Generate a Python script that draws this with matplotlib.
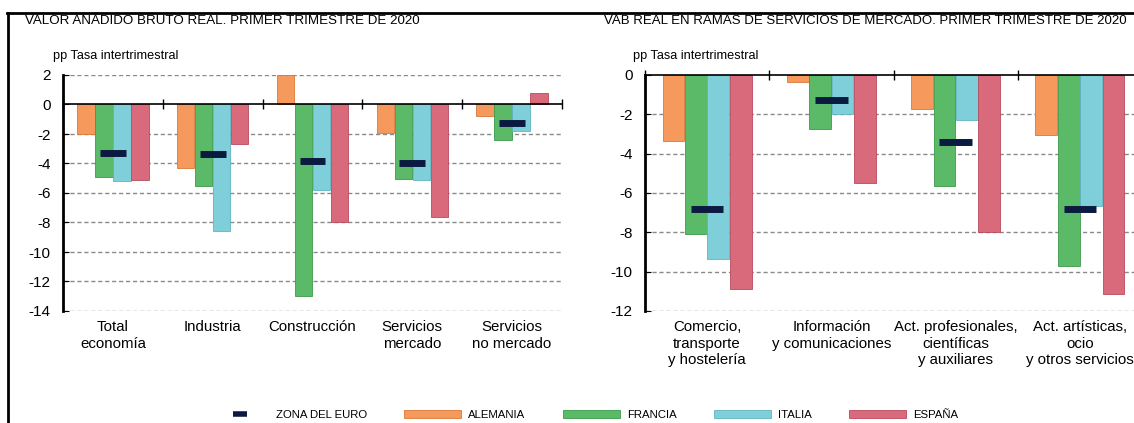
import matplotlib
matplotlib.use("Agg")
import matplotlib.pyplot as plt
import matplotlib.transforms as mtransforms
from matplotlib.lines import Line2D
from matplotlib.patches import Patch
import numpy as np

plt.rcParams["font.family"] = ["Liberation Sans", "DejaVu Sans"]

# --- data (pp, quarter-on-quarter rate) ---
cats_left = ["Total\neconomía", "Industria", "Construcción",
             "Servicios\nmercado", "Servicios\nno mercado"]
alemania_l = [-2.0, -4.3, 2.0, -1.9, -0.75]
francia_l = [-4.9, -5.5, -13.0, -5.05, -2.4]
italia_l = [-5.2, -8.6, -5.8, -5.1, -1.8]
espana_l = [-5.1, -2.7, -8.0, -7.6, 0.8]
euro_l = [-3.3, -3.35, -3.85, -3.95, -1.25]

cats_right = ["Comercio,\ntransporte\ny hostelería", "Información\ny comunicaciones",
              "Act. profesionales,\ncientíficas\ny auxiliares",
              "Act. artísticas,\nocio\ny otros servicios"]
alemania_r = [-3.35, -0.35, -1.75, -3.05]
francia_r = [-8.1, -2.75, -5.65, -9.7]
italia_r = [-9.35, -2.0, -2.3, -6.65]
espana_r = [-10.9, -5.5, -8.0, -11.15]
euro_r = [-6.8, -1.25, -3.4, -6.8]

countries = ["ALEMANIA", "FRANCIA", "ITALIA", "ESPAÑA"]
colors = ["#F59A5C", "#5BBA68", "#7FCFDA", "#D96A7C"]
edges = ["#D9783A", "#3E9A4C", "#60B4C2", "#B84A5E"]
euro_color = "#0B1A40"

fig = plt.figure(figsize=(11.34, 4.23), dpi=100)
W, H = 1134, 423


def draw_panel(ax, cats, series, euro, ylim, yticks, label_y):
    x = np.arange(len(cats))
    bw = 0.18
    for i, (vals, c, e) in enumerate(zip(series, colors, edges)):
        ax.bar(x + (i - 1.5) * bw, vals, bw * 0.97, color=c, edgecolor=e,
               linewidth=0.6, zorder=3)
    ax.hlines(euro, x - 0.13, x + 0.13, color=euro_color, linewidth=5, zorder=4)
    ax.set_xlim(-0.5, len(cats) - 0.5)
    ax.set_ylim(*ylim)
    ax.set_yticks(yticks)
    ax.set_yticklabels([str(t) for t in yticks], fontsize=11)
    ax.tick_params(axis="y", direction="in", length=4, pad=9)
    for t in yticks:
        if t != 0:
            ax.axhline(t, color="#8a8a8a", linestyle=(0, (3, 2)), linewidth=1.0, zorder=1)
    ax.spines["top"].set_visible(False)
    ax.spines["right"].set_visible(False)
    ax.spines["left"].set_linewidth(2)
    ax.spines["bottom"].set_position(("data", 0))
    ax.spines["bottom"].set_linewidth(1.2)
    ax.spines["bottom"].set_zorder(5)
    ax.set_xticks(np.arange(len(cats) + 1) - 0.5)
    ax.set_xticklabels([])
    ax.tick_params(axis="x", direction="inout", length=7, width=1)
    trans = mtransforms.blended_transform_factory(ax.transData, ax.transAxes)
    for xi, lab in zip(x, cats):
        ax.text(xi, label_y, lab, transform=trans, ha="center", va="top",
                fontsize=10.8, linespacing=1.2)
    ax.set_facecolor("none")


ax1 = fig.add_axes([63 / W, 1 - 311 / H, 499 / W, 236 / H])
draw_panel(ax1, cats_left, [alemania_l, francia_l, italia_l, espana_l], euro_l,
           (-14, 2), list(range(2, -15, -2)), -0.04)

ax2 = fig.add_axes([645 / W, 1 - 311 / H, 497 / W, 236 / H])
draw_panel(ax2, cats_right, [alemania_r, francia_r, italia_r, espana_r], euro_r,
           (-12, 0), list(range(0, -13, -2)), -0.04)

# titles and units
fig.text(25 / W, 1 - 21 / H, "VALOR AÑADIDO BRUTO REAL. PRIMER TRIMESTRE DE 2020",
         fontsize=9.6, va="center", ha="left")
fig.text(604 / W, 1 - 21 / H, "VAB REAL EN RAMAS DE SERVICIOS DE MERCADO. PRIMER TRIMESTRE DE 2020",
         fontsize=9.5, va="center", ha="left")
fig.text(53 / W, 1 - 56 / H, "pp Tasa intertrimestral", fontsize=9.2, va="center")
fig.text(633 / W, 1 - 56 / H, "pp Tasa intertrimestral", fontsize=9.2, va="center")

# frame lines
fig.add_artist(Line2D([7 / W, 1.0], [1 - 13 / H, 1 - 13 / H], color="black", linewidth=2))
fig.add_artist(Line2D([8 / W, 8 / W], [1 - 13 / H, 0], color="black", linewidth=2))

# legend
handles = [Line2D([], [], color=euro_color, marker="_", markersize=10,
                  markeredgewidth=4, linestyle="none", label="ZONA DEL EURO")]
handles += [Patch(facecolor=c, edgecolor=e, linewidth=0.6, label=n)
            for c, e, n in zip(colors, edges, countries)]
leg = fig.legend(handles=handles, loc="center", bbox_to_anchor=(585 / W, 1 - 415 / H),
                 ncol=5, frameon=False, handlelength=5, handleheight=0.6,
                 columnspacing=3.3, handletextpad=0.6,
                 prop={"family": ["Liberation Sans"], "size": 8.2})

fig.savefig("out.png", dpi=100, facecolor="white")
